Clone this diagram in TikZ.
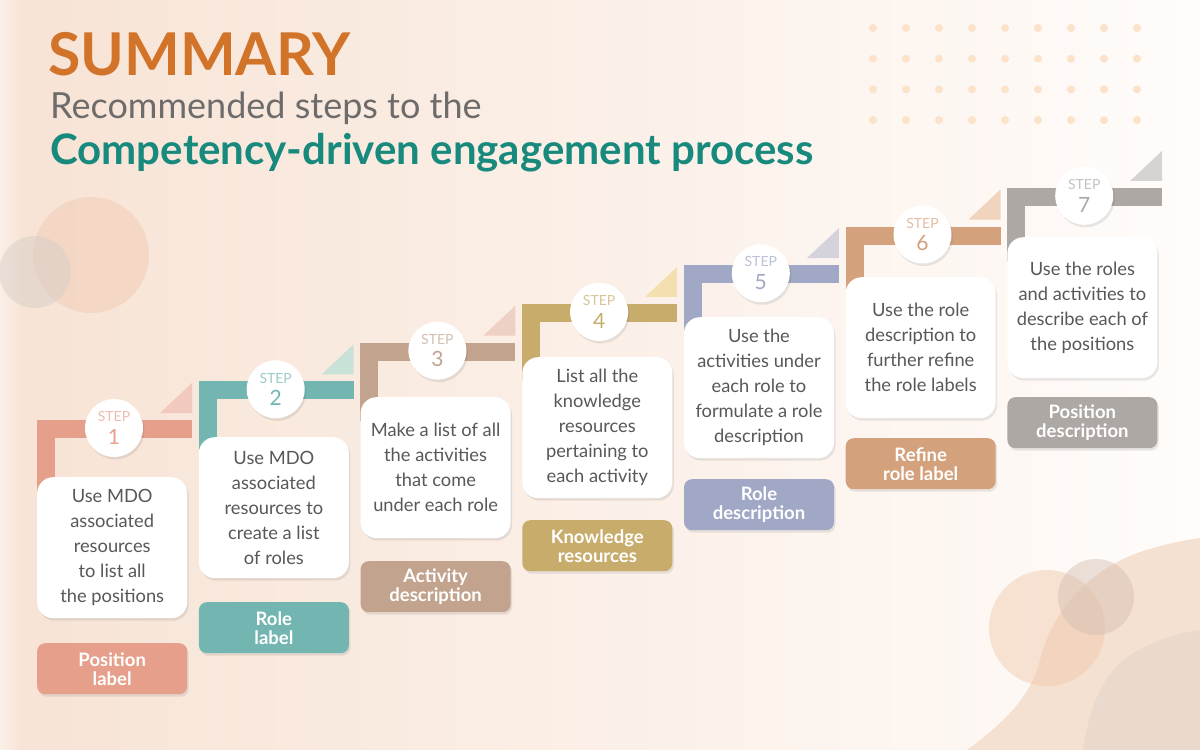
\documentclass[tikz,border=0pt]{standalone}
\usepackage{fontspec}
\setmainfont{Lato}
\usepackage{xcolor}
\usepackage{tikz}
\usetikzlibrary{positioning,calc,shadows}
\definecolor{bgleft}{HTML}{F7E3D5}
\definecolor{bgmid}{HTML}{F9E6D6}
\definecolor{bgright}{HTML}{FFFCFA}
\definecolor{sumorange}{HTML}{D2732A}
\definecolor{subgray}{HTML}{6E6C6B}
\definecolor{sumteal}{HTML}{17897D}
\definecolor{boxgray}{HTML}{595757}
\definecolor{dotpeach}{HTML}{FBE2C8}
\definecolor{circpeach}{HTML}{F3D4C0}
\definecolor{circgray}{HTML}{D9CEC8}
\definecolor{blobpeach}{HTML}{F5E1D2}
\definecolor{blobtan}{HTML}{EADACD}
\definecolor{blobcircA}{HTML}{EFC6A8}
\definecolor{blobcircB}{HTML}{D2BCAE}
% step colours (bar / label) and the small triangles
\definecolor{step1}{HTML}{E69F8B}\definecolor{tri1}{HTML}{F2CABD}
\definecolor{step2}{HTML}{73B6B1}\definecolor{tri2}{HTML}{C9E2D8}
\definecolor{step3}{HTML}{C2A38E}\definecolor{tri3}{HTML}{EFD0C4}
\definecolor{step4}{HTML}{C8AC6C}\definecolor{tri4}{HTML}{F4E0AE}
\definecolor{step5}{HTML}{A0A8C6}\definecolor{tri5}{HTML}{D4D3DC}
\definecolor{step6}{HTML}{D4A17D}\definecolor{tri6}{HTML}{F1D4BE}
\definecolor{step7}{HTML}{AEA8A5}\definecolor{tri7}{HTML}{D6D3D2}
\tikzset{
  softshadow/.style={drop shadow={shadow xshift=1.5pt,shadow yshift=-2.5pt,opacity=0.12,fill=black!70}},
  textbox/.style={fill=white,rounded corners=16pt,minimum width=150pt,minimum height=141pt,
    inner sep=0pt,align=center,text=boxgray,font=\fontsize{18.3}{25}\selectfont,anchor=north west,softshadow},
  labelbox/.style={rounded corners=8pt,minimum width=150pt,minimum height=51pt,inner sep=0pt,
    align=center,text=white,font=\bfseries\fontsize{18.5}{19}\selectfont,anchor=north west,softshadow},
  stepcircle/.style={circle,fill=white,minimum size=58pt,inner sep=0pt,align=center,
    font=\fontsize{14}{22.5}\selectfont,softshadow},
}

\begin{document}
\begin{tikzpicture}[x=1pt,y=-1pt]
\useasboundingbox (0,0) rectangle (1200,750);
% ---------------- background ----------------
\fill[left color=bgleft,middle color=bgmid,right color=bgright] (0,0) rectangle (1200,750);
\fill[left color=bgleft!55!white,right color=bgleft] (0,0) rectangle (22,750);
\fill[circpeach,opacity=0.8] (91,255) circle (58pt);
\fill[circgray,opacity=0.5] (35,272) circle (36pt);
\foreach \cx in {0,...,8}{
  \foreach \cy in {0,...,3}{
    \fill[dotpeach] (873+33*\cx,28+30.7*\cy) circle (4pt);}}
\fill[blobpeach] (967,750) .. controls (1000,725) and (1030,700) .. (1040,660)
  .. controls (1052,610) and (1090,570) .. (1140,552) .. controls (1165,544) and (1185,540) .. (1200,538) -- (1200,750) -- cycle;
\fill[blobtan] (1083,750) .. controls (1088,715) and (1100,675) .. (1130,655)
  .. controls (1155,640) and (1180,632) .. (1200,630) -- (1200,750) -- cycle;
\fill[blobcircA,opacity=0.45] (1047,628) circle (58pt);
\fill[blobcircB,opacity=0.45] (1096,597) circle (38pt);
% ---------------- title ----------------
\node[anchor=base west,inner sep=0pt,text=sumorange,font=\bfseries\fontsize{59}{59}\selectfont] (title) at (48,75) {SUMMARY};
\node[anchor=base west,inner sep=0pt,text=subgray,font=\fontsize{36}{36}\selectfont] (subtitle) at (50,118) {Recommended steps to the};
\node[anchor=base west,inner sep=0pt,text=sumteal,font=\bfseries\fontsize{42}{42}\selectfont] (process) at (50,164) {Competency-driven engagement process};
% ---------------- steps ----------------
\foreach \body/\lab [count=\n] in {
  {Use MDO\\associated\\resources\\to list all\\the positions}/{Position\\label},
  {Use MDO\\associated\\resources to\\create a list\\of roles}/{Role\\label},
  {Make a list of all\\the activities\\that come\\under each role}/{Activity\\description},
  {List all the\\knowledge\\resources\\pertaining to\\each activity}/{Knowledge\\resources},
  {Use the\\activities under\\each role to\\formulate a role\\description}/{Role\\description},
  {Use the role\\description to\\further refine\\the role labels}/{Refine\\role label},
  {Use the roles\\and activities to\\describe each of\\the positions}/{Position\\description}}{
  \pgfmathsetmacro{\x}{37+161.7*(\n-1)}
  \pgfmathsetmacro{\by}{420-38.7*(\n-1)}
  \pgfmathsetmacro{\ty}{477-40*(\n-1)}
  \pgfmathsetmacro{\ly}{643-41*(\n-1)}
  \fill[tri\n] (\x+123,\by-7) -- (\x+155,\by-7) -- (\x+155,\by-37) -- cycle;
  \draw[step\n,line width=18pt,line join=miter] (\x+9,\ty+24) -- (\x+9,\by+9) -- (\x+155,\by+9);
  \node[textbox] (box\n) at (\x,\ty) {\body};
  \node[labelbox,fill=step\n] (lab\n) at (\x,\ly) {\lab};
  \node[stepcircle] (circ\n) at (\x+77,\by+8)
    {\textcolor{step\n!70}{STEP}\\\textcolor{step\n}{\fontsize{21}{21}\selectfont \n}};
}
\end{tikzpicture}
\end{document}
